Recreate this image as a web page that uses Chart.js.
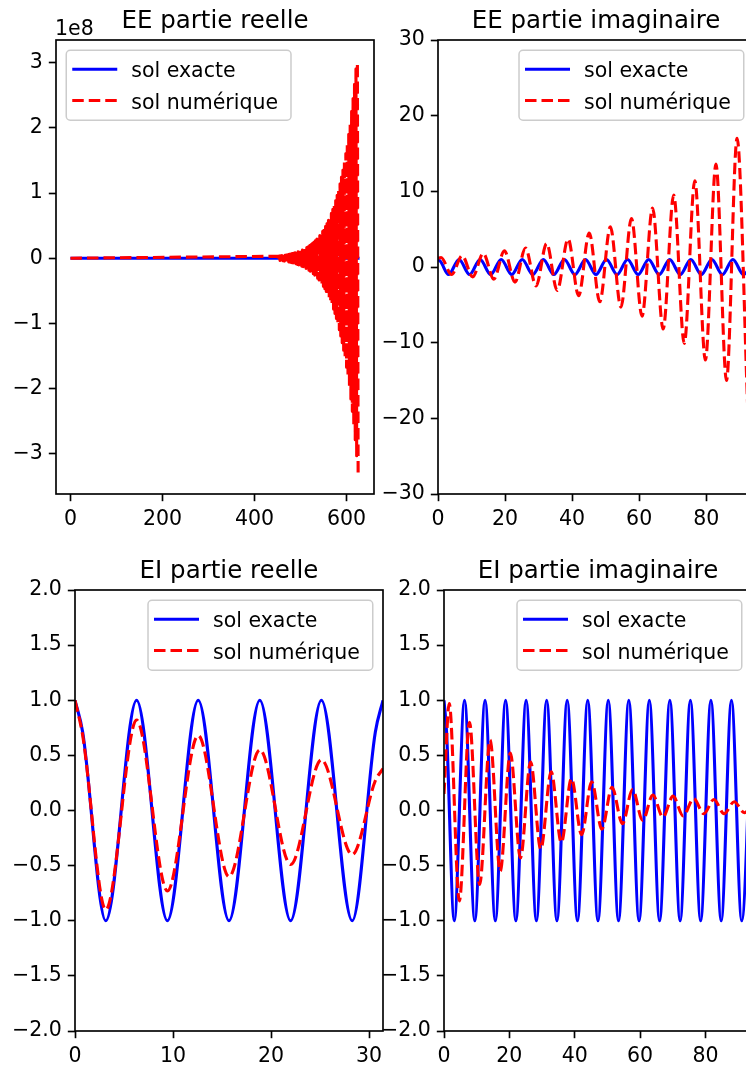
<!DOCTYPE html>
<html>
<head>
<meta charset="utf-8">
<script src="https://cdn.jsdelivr.net/npm/chart.js@4.4.0/dist/chart.umd.min.js"></script>
<style>
html, body { margin: 0; padding: 0; background: #fff; }
#fig { position: relative; width: 746px; height: 1068px; overflow: hidden; background: #fff; }
#fig canvas { position: absolute; }
</style>
</head>
<body>
<div id="fig">
  <canvas id="eeRe"></canvas>
  <canvas id="eeIm"></canvas>
  <canvas id="eiRe"></canvas>
  <canvas id="eiIm"></canvas>
</div>
<script>
// ================= DATA =================
const legendLabels = ['sol exacte', 'sol numérique'];

// --- EE partie reelle (y values in units of 1e8) ---
const eeReXLim = [-31.4, 659.7];
const eeReYLim = [-3.62, 3.35];
const eeReXTicks = [0, 200, 400, 600];
const eeReYTicks = [-3, -2, -1, 0, 1, 2, 3];
const eeReExactT = [0, 100, 200, 300, 400, 500, 600, 628.3];
const eeReExactV = [0, 0, 0, 0, 0, 0, 0, 0];
const eeReNumT = [0,
  450.84,
  452.41, 453.98, 455.55, 457.12, 458.69, 460.26, 461.84, 463.41, 464.98, 466.55,
  468.12, 469.69, 471.26, 472.83, 474.40, 475.97, 477.54, 479.11, 480.69, 482.26,
  483.83, 485.40, 486.97, 488.54, 490.11, 491.68, 493.25, 494.82, 496.39, 497.96,
  499.54, 501.11, 502.68, 504.25, 505.82, 507.39, 508.96, 510.53, 512.10, 513.67,
  515.24, 516.81, 518.39, 519.96, 521.53, 523.10, 524.67, 526.24, 527.81, 529.38,
  530.95, 532.52, 534.09, 535.66, 537.24, 538.81, 540.38, 541.95, 543.52, 545.09,
  546.66, 548.23, 549.80, 551.37, 552.94, 554.51, 556.08, 557.66, 559.23, 560.80,
  562.37, 563.94, 565.51, 567.08, 568.65, 570.22, 571.79, 573.36, 574.93, 576.51,
  578.08, 579.65, 581.22, 582.79, 584.36, 585.93, 587.50, 589.07, 590.64, 592.21,
  593.78, 595.36, 596.93, 598.50, 600.07, 601.64, 603.21, 604.78, 606.35, 607.92,
  609.49, 611.06, 612.63, 614.20, 615.78, 617.35, 618.92, 620.49, 622.06, 623.63,
  625.20];
const eeReNumV = [0,
  0.030,
  -0.031, 0.033, -0.034, 0.035, -0.037, 0.039, -0.040, 0.042, -0.044, 0.046,
  -0.048, 0.050, -0.052, 0.054, -0.056, 0.059, -0.061, 0.064, -0.067, 0.070,
  -0.073, 0.076, -0.079, 0.083, -0.086, 0.090, -0.094, 0.098, -0.102, 0.107,
  -0.111, 0.116, -0.121, 0.126, -0.132, 0.137, -0.143, 0.150, -0.156, 0.163,
  -0.170, 0.177, -0.185, 0.193, -0.201, 0.210, -0.219, 0.228, -0.238, 0.249,
  -0.259, 0.271, -0.282, 0.295, -0.307, 0.321, -0.335, 0.349, -0.364, 0.380,
  -0.397, 0.414, -0.432, 0.450, -0.470, 0.490, -0.511, 0.533, -0.557, 0.581,
  -0.606, 0.632, -0.659, 0.688, -0.718, 0.749, -0.781, 0.815, -0.850, 0.887,
  -0.926, 0.966, -1.008, 1.051, -1.097, 1.144, -1.194, 1.245, -1.299, 1.355,
  -1.414, 1.475, -1.539, 1.606, -1.675, 1.748, -1.823, 1.902, -1.985, 2.071,
  -2.160, 2.254, -2.351, 2.453, -2.559, 2.670, -2.786, 2.906, -3.032, 3.000,
  -3.300];

// --- exact solution on [0, 30π] (shared by EE / EI partie imaginaire) ---
const exactT30 = [0, 0.785, 3.142, 6.283, 9.425, 12.566, 15.708, 18.850, 21.991, 25.133, 28.274,
  31.416, 34.558, 37.699, 40.841, 43.982, 47.124, 50.265, 53.407, 56.549, 59.690,
  62.832, 65.973, 69.115, 72.257, 75.398, 78.540, 81.681, 84.823, 87.965, 91.106, 94.248];
const exactV30 = [1, 0.71, -1, 1, -1, 1, -1, 1, -1, 1, -1,
  1, -1, 1, -1, 1, -1, 1, -1, 1, -1,
  1, -1, 1, -1, 1, -1, 1, -1, 1, -1, 1];

// --- EE partie imaginaire ---
const eeImXLim = [0, 94.25];
const eeImYLim = [-30, 30];
const eeImXTicks = [0, 20, 40, 60, 80];
const eeImYTicks = [-30, -20, -10, 0, 10, 20, 30];
const eeImNumT = [0, 0.9, 4.05, 7.2, 10.35, 13.5, 16.65, 19.8, 22.95, 26.1, 29.25, 32.4, 35.55,
  38.8, 41.95, 45.1, 48.25, 51.4, 54.55, 57.7, 60.85, 64.0, 67.15, 70.3, 73.45, 76.6,
  79.75, 82.9, 86.05, 89.2, 92.35];
const eeImNumV = [1.15, 1.25, -1.0, 1.5, -1.3, 1.8, -1.6, 2.15, -2.0, 2.5, -2.5, 3.1, -3.1,
  3.7, -3.8, 4.5, -4.6, 5.3, -5.3, 6.4, -6.5, 7.8, -8.2, 9.5, -10.1, 11.4,
  -12.3, 13.6, -15.0, 17.0, -18.3];

// --- EI partie reelle ---
const eiReXLim = [0, 31.416];
const eiReYLim = [-2, 2];
const eiReXTicks = [0, 10, 20, 30];
const eiReYTicks = [-2, -1.5, -1, -0.5, 0, 0.5, 1, 1.5, 2];
const eiReT = [0, 0.785, 3.142, 6.283, 9.425, 12.566, 15.708, 18.850, 21.991, 25.133, 28.274, 30.631, 31.416];
const eiReExactV = [1, 0.71, -1, 1, -1, 1, -1, 1, -1, 1, -1, 0.71, 1];
const eiReNumV = [1.0, 0.68, -0.90, 0.82, -0.73, 0.68, -0.60, 0.55, -0.49, 0.46, -0.40, 0.27, 0.38];

// --- EI partie imaginaire ---
const eiImXLim = [0, 94.25];
const eiImYLim = [-2, 2];
const eiImXTicks = [0, 20, 40, 60, 80];
const eiImYTicks = [-2, -1.5, -1, -0.5, 0, 0.5, 1, 1.5, 2];
const eiImNumT = [0, 1.6, 4.7, 7.8, 10.9, 14.1, 17.2, 20.3, 23.4, 26.5, 29.6, 32.8, 35.9, 39.0,
  42.1, 45.2, 48.3, 51.4, 54.6, 57.7, 60.8, 63.9, 67.0, 70.1, 73.2, 76.4, 79.5,
  82.6, 85.7, 88.8, 91.9, 94.25];
const eiImNumV = [0.15, 0.97, -0.82, 0.80, -0.67, 0.64, -0.55, 0.52, -0.43, 0.44, -0.35, 0.35, -0.29, 0.29,
  -0.22, 0.26, -0.17, 0.21, -0.12, 0.19, -0.09, 0.14, -0.06, 0.13, -0.05, 0.11, -0.03,
  0.10, -0.03, 0.08, -0.02, 0.04];

// ================= STYLE =================
const FONT = '"DejaVu Sans", "Liberation Sans", sans-serif';
const TICK_FS = 20.5, TITLE_FS = 24.5, LEG_FS = 20.5;
const BLUE = '#0000ff', RED = '#ff0000';
const LW = 3.1, DASH = [11.5, 5];
const SPINE_W = 1.66;

function fmtInt(v) { return (v < 0 ? '\u2212' : '') + Math.abs(v).toFixed(0); }
function fmt1(v) { return (v < 0 ? '\u2212' : '') + Math.abs(v).toFixed(1); }
function pts(t, v) { return t.map((x, i) => ({ x: x, y: v[i] })); }

const mplPlugin = {
  id: 'mpl',
  afterDraw(chart, _args, o) {
    const ctx = chart.ctx, a = chart.chartArea;
    ctx.save();
    ctx.setLineDash([]);
    ctx.strokeStyle = '#000';
    ctx.lineWidth = SPINE_W;
    ctx.strokeRect(a.left, a.top, a.right - a.left, a.bottom - a.top);
    ctx.fillStyle = '#000';
    ctx.font = TITLE_FS + 'px ' + FONT;
    ctx.textAlign = 'center';
    ctx.textBaseline = 'alphabetic';
    ctx.fillText(o.title, (a.left + a.right) / 2, a.top - 12.4);
    if (o.offsetText) {
      ctx.font = TICK_FS + 'px ' + FONT;
      ctx.textAlign = 'left';
      ctx.fillText(o.offsetText, a.left - 1, a.top - 5);
    }
    // legend (matplotlib style)
    ctx.font = LEG_FS + 'px ' + FONT;
    const ds = chart.data.datasets;
    const tw = Math.max.apply(null, ds.map(d => ctx.measureText(d.label).width));
    const w = tw + 78, h = 70, m = 10.25;
    const x0 = o.loc === 'upper left' ? a.left + m : a.right - m - w;
    const y0 = a.top + m;
    ctx.beginPath();
    if (ctx.roundRect) ctx.roundRect(x0, y0, w, h, 4); else ctx.rect(x0, y0, w, h);
    ctx.fillStyle = 'rgba(255,255,255,0.8)';
    ctx.fill();
    ctx.strokeStyle = '#cccccc';
    ctx.lineWidth = 1.5;
    ctx.stroke();
    ds.forEach((d, i) => {
      const yy = y0 + 19 + i * 31.3;
      ctx.beginPath();
      ctx.setLineDash(d.borderDash || []);
      ctx.lineDashOffset = 0;
      ctx.strokeStyle = d.borderColor;
      ctx.lineWidth = d.borderWidth;
      ctx.lineCap = 'butt';
      ctx.moveTo(x0 + 6, yy);
      ctx.lineTo(x0 + 51, yy);
      ctx.stroke();
      ctx.setLineDash([]);
      ctx.fillStyle = '#000';
      ctx.textAlign = 'left';
      ctx.textBaseline = 'alphabetic';
      ctx.fillText(d.label, x0 + 65, yy + 8);
    });
    ctx.restore();
  }
};

function axis(lim, ticks, fmt, fitFn) {
  return {
    type: 'linear',
    min: lim[0], max: lim[1],
    afterBuildTicks: s => { s.ticks = ticks.map(v => ({ value: v })); },
    afterFit: fitFn,
    grid: { display: true, drawOnChartArea: false, drawTicks: true, tickLength: 7.2,
            tickWidth: SPINE_W, tickColor: '#000' },
    border: { display: false },
    ticks: { autoSkip: false, maxRotation: 0, minRotation: 0, padding: 6, color: '#000',
             font: { family: FONT, size: TICK_FS }, callback: v => fmt(v) }
  };
}

function makeChart(id, box, area, spec) {
  const cv = document.getElementById(id);
  cv.width = box.w; cv.height = box.h;
  cv.style.left = box.x + 'px'; cv.style.top = box.y + 'px';
  cv.style.width = box.w + 'px'; cv.style.height = box.h + 'px';
  const lineBase = { pointRadius: 0, borderWidth: LW, fill: false, clip: 0,
                     borderCapStyle: 'butt', borderJoinStyle: 'round' };
  return new Chart(cv, {
    type: 'line',
    data: {
      datasets: [
        Object.assign({}, lineBase, { label: legendLabels[0], data: pts(spec.exT, spec.exV),
          borderColor: BLUE, order: 1, cubicInterpolationMode: spec.smooth ? 'monotone' : 'default', tension: 0 }),
        Object.assign({}, lineBase, { label: legendLabels[1], data: pts(spec.nuT, spec.nuV),
          borderColor: RED, borderDash: DASH, order: 0,
          cubicInterpolationMode: spec.smoothNum ? 'monotone' : 'default', tension: 0 })
      ]
    },
    options: {
      responsive: false,
      animation: false,
      events: [],
      layout: { padding: { top: area.top, right: box.w - area.right, left: 0, bottom: 0 } },
      scales: {
        x: Object.assign(axis(spec.xLim, spec.xTicks, spec.xFmt, s => { s.height = box.h - area.bottom; }), { position: 'bottom' }),
        y: Object.assign(axis(spec.yLim, spec.yTicks, spec.yFmt, s => { s.width = area.left; }), { position: 'left' })
      },
      plugins: {
        legend: { display: false },
        tooltip: { enabled: false },
        title: { display: false },
        mpl: { title: spec.title, loc: spec.loc, offsetText: spec.offsetText }
      }
    },
    plugins: [mplPlugin]
  });
}

makeChart('eeRe', { x: 0, y: 0, w: 400, h: 540 }, { left: 56, top: 40, right: 374, bottom: 494 }, {
  title: 'EE partie reelle', loc: 'upper left', offsetText: '1e8',
  exT: eeReExactT, exV: eeReExactV, nuT: eeReNumT, nuV: eeReNumV, smooth: false, smoothNum: false,
  xLim: eeReXLim, yLim: eeReYLim, xTicks: eeReXTicks, yTicks: eeReYTicks, xFmt: fmtInt, yFmt: fmtInt
});
makeChart('eeIm', { x: 370, y: 0, w: 440, h: 540 }, { left: 68, top: 40, right: 384, bottom: 494 }, {
  title: 'EE partie imaginaire', loc: 'upper right',
  exT: exactT30, exV: exactV30, nuT: eeImNumT, nuV: eeImNumV, smooth: true, smoothNum: true,
  xLim: eeImXLim, yLim: eeImYLim, xTicks: eeImXTicks, yTicks: eeImYTicks, xFmt: fmtInt, yFmt: fmtInt
});
makeChart('eiRe', { x: 0, y: 540, w: 400, h: 528 }, { left: 75, top: 50, right: 383, bottom: 491 }, {
  title: 'EI partie reelle', loc: 'upper right',
  exT: eiReT, exV: eiReExactV, nuT: eiReT, nuV: eiReNumV, smooth: true, smoothNum: true,
  xLim: eiReXLim, yLim: eiReYLim, xTicks: eiReXTicks, yTicks: eiReYTicks, xFmt: fmtInt, yFmt: fmt1
});
makeChart('eiIm', { x: 370, y: 540, w: 440, h: 528 }, { left: 74, top: 50, right: 382, bottom: 491 }, {
  title: 'EI partie imaginaire', loc: 'upper right',
  exT: exactT30, exV: exactV30, nuT: eiImNumT, nuV: eiImNumV, smooth: true, smoothNum: true,
  xLim: eiImXLim, yLim: eiImYLim, xTicks: eiImXTicks, yTicks: eiImYTicks, xFmt: fmtInt, yFmt: fmt1
});
</script>
</body>
</html>
